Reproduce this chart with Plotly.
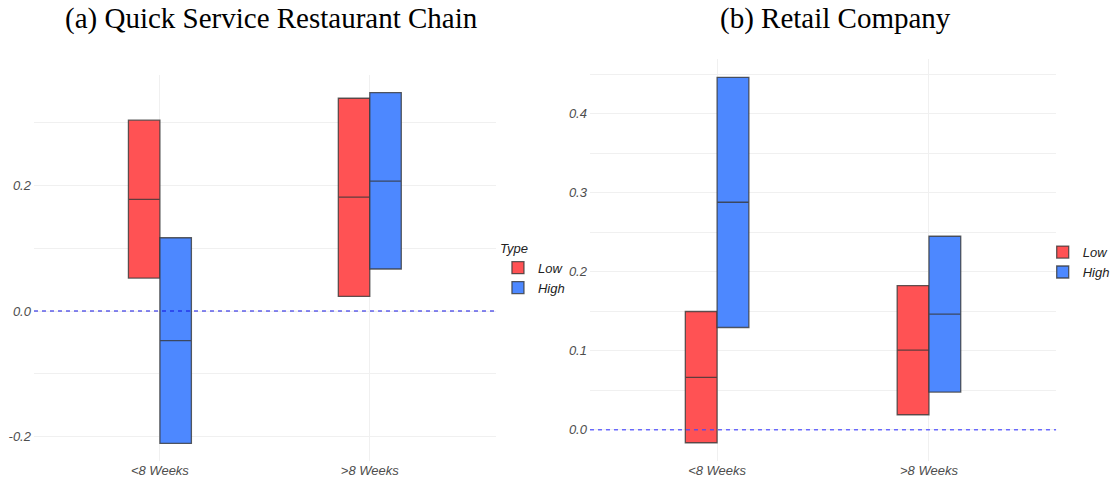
import plotly.graph_objects as go

# Duration groups on the x axis
periods = ["<8 Weeks", ">8 Weeks"]
types = ["Low", "High"]

# (a) Quick Service Restaurant Chain: lower, middle, upper per type
qsr_low_lower = [0.0525, 0.0233]
qsr_low_mid = [0.178, 0.1815]
qsr_low_upper = [0.304, 0.339]
qsr_high_lower = [-0.211, 0.0669]
qsr_high_mid = [-0.0473, 0.207]
qsr_high_upper = [0.1167, 0.348]

# (b) Retail Company
ret_low_lower = [-0.0164, 0.019]
ret_low_mid = [0.0662, 0.1008]
ret_low_upper = [0.1497, 0.1825]
ret_high_lower = [0.1294, 0.0477]
ret_high_mid = [0.2879, 0.1463]
ret_high_upper = [0.446, 0.2449]

qsr_ticks = [-0.2, 0.0, 0.2]
qsr_ticktext = ["-0.2", "0.0", "0.2"]
ret_ticks = [0.0, 0.1, 0.2, 0.3, 0.4]
ret_ticktext = ["0.0", "0.1", "0.2", "0.3", "0.4"]

reference_level = 0.0

fill = {"Low": "#FF5254", "High": "#4D88FF"}
edge = "rgba(55,55,55,0.8)"

fig = go.Figure()

panels = [
    ("x", "y", "legend",
     {"Low": (qsr_low_lower, qsr_low_mid, qsr_low_upper),
      "High": (qsr_high_lower, qsr_high_mid, qsr_high_upper)}),
    ("x2", "y2", "legend2",
     {"Low": (ret_low_lower, ret_low_mid, ret_low_upper),
      "High": (ret_high_lower, ret_high_mid, ret_high_upper)}),
]

for xa, ya, lg, series in panels:
    for t in types:
        lo, mid, hi = series[t]
        fig.add_trace(go.Box(
            x=periods, q1=lo, median=mid, q3=hi,
            lowerfence=lo, upperfence=hi,
            name=t, legend=lg, xaxis=xa, yaxis=ya,
            fillcolor=fill[t], line=dict(color=edge, width=1.3),
            offsetgroup=t, hoverinfo="skip",
        ))

sans = "Liberation Sans, Arial, sans-serif"
tick_font = dict(family=sans, size=13, color="#4d4d4d", style="italic")
legend_font = dict(family=sans, size=13, color="#222", style="italic")
grid = "#f0f0f0"

fig.update_layout(
    width=1114, height=481,
    margin=dict(l=0, r=0, t=0, b=0, autoexpand=False),
    paper_bgcolor="white", plot_bgcolor="white",
    boxmode="group", boxgap=0.7, boxgroupgap=0,
    xaxis=dict(domain=[0.0305, 0.445], range=[-0.6, 1.6],
               showgrid=True, gridcolor=grid, gridwidth=1,
               zeroline=False, showline=False, ticks="",
               tickfont=tick_font, anchor="y"),
    yaxis=dict(domain=[0.0416, 0.844], range=[-0.239, 0.376],
               tickvals=qsr_ticks, ticktext=qsr_ticktext,
               showgrid=True, gridcolor=grid, gridwidth=1,
               minor=dict(dtick=0.1, tick0=0, showgrid=True, gridcolor=grid),
               zeroline=False, showline=False, ticks="",
               tickfont=tick_font, anchor="x", ticklabelstandoff=2),
    xaxis2=dict(domain=[0.5296, 0.948], range=[-0.6, 1.6],
                showgrid=True, gridcolor=grid, gridwidth=1,
                zeroline=False, showline=False, ticks="",
                tickfont=tick_font, anchor="y2"),
    yaxis2=dict(domain=[0.0416, 0.877], range=[-0.0395, 0.469],
                tickvals=ret_ticks, ticktext=ret_ticktext,
                showgrid=True, gridcolor=grid, gridwidth=1,
                minor=dict(dtick=0.05, tick0=0, showgrid=True, gridcolor=grid),
                zeroline=False, showline=False, ticks="",
                tickfont=tick_font, anchor="x2", ticklabelstandoff=2),
    legend=dict(x=0.447, y=0.44, xanchor="left", yanchor="middle",
                title=dict(text="Type", font=legend_font),
                font=legend_font, tracegroupgap=0, itemwidth=30,
                bgcolor="rgba(0,0,0,0)"),
    legend2=dict(x=0.936, y=0.455, xanchor="left", yanchor="middle",
                 font=legend_font, tracegroupgap=0, itemwidth=30,
                 bgcolor="rgba(0,0,0,0)"),
    showlegend=True,
)

# Dashed reference line at zero in each panel
fig.add_shape(type="line", xref="x domain", yref="y", x0=0, x1=1,
              y0=reference_level, y1=reference_level,
              line=dict(color="#0f0fe0", width=1.1, dash="4px,4px"), layer="above")
fig.add_shape(type="line", xref="x2 domain", yref="y2", x0=0, x1=1,
              y0=reference_level, y1=reference_level,
              line=dict(color="rgba(70,70,255,0.8)", width=1.6, dash="4px,4px"),
              layer="above")

title_font = dict(family="Liberation Serif, Times New Roman, serif", size=29, color="black")
fig.add_annotation(text="(a) Quick Service Restaurant Chain", x=0.244, y=1.0,
                   xref="paper", yref="paper", xanchor="center", yanchor="top",
                   showarrow=False, font=title_font)
fig.add_annotation(text="(b) Retail Company", x=0.75, y=1.0,
                   xref="paper", yref="paper", xanchor="center", yanchor="top",
                   showarrow=False, font=title_font)

fig.write_html("out.html")
